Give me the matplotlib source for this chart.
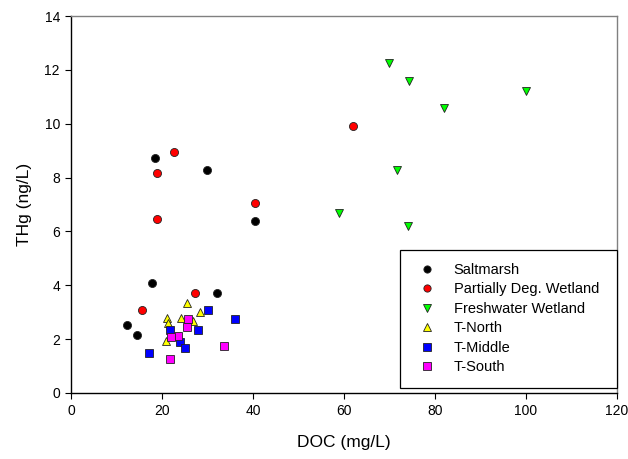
import matplotlib.pyplot as plt

plt.rcParams['font.family'] = ['Liberation Sans', 'DejaVu Sans']

# DOC (mg/L) vs THg (ng/L) by site group
salt_x = [17.8, 32.0, 12.4, 14.5, 18.4, 29.8, 40.4]
salt_y = [4.09, 3.73, 2.53, 2.14, 8.71, 8.27, 6.37]

pdw_x = [22.6, 18.8, 19.0, 40.4, 62.0, 27.2, 15.6]
pdw_y = [8.94, 8.17, 6.48, 7.06, 9.91, 3.73, 3.09]

fw_x = [69.9, 74.2, 100.1, 81.9, 71.6, 59.0, 74.1]
fw_y = [12.25, 11.57, 11.20, 10.58, 8.28, 6.67, 6.21]

tn_x = [25.4, 28.3, 21.2, 24.2, 26.8, 21.4, 20.8]
tn_y = [3.36, 2.99, 2.79, 2.78, 2.68, 2.59, 1.93]

tm_x = [30.2, 36.0, 28.0, 21.8, 23.9, 25.0, 17.2]
tm_y = [3.07, 2.75, 2.33, 2.33, 1.89, 1.68, 1.50]

ts_x = [25.8, 25.4, 23.6, 21.9, 33.7, 21.7]
ts_y = [2.74, 2.44, 2.12, 2.09, 1.73, 1.27]

series = [
    (salt_x, salt_y, 'o', 'black', 'Saltmarsh'),
    (pdw_x, pdw_y, 'o', '#ff0000', 'Partially Deg. Wetland'),
    (fw_x, fw_y, 'v', '#00ff00', 'Freshwater Wetland'),
    (tn_x, tn_y, '^', '#ffff00', 'T-North'),
    (tm_x, tm_y, 's', '#0000ff', 'T-Middle'),
    (ts_x, ts_y, 's', '#ff00ff', 'T-South'),
]

fig = plt.figure(figsize=(6.28, 4.59), dpi=100)
ax = fig.add_axes([0.1131, 0.1438, 0.8694, 0.8213])

for x, y, m, c, lab in series:
    ms = 6.4 if m in ('v', '^') else 5.8
    ax.plot(x, y, linestyle='none', marker=m, markersize=ms,
            markerfacecolor=c, markeredgecolor='#222222',
            markeredgewidth=0.6, label=lab)

ax.set_xlim(0, 120)
ax.set_ylim(0, 14)
ax.set_xticks(range(0, 121, 20))
ax.set_yticks(range(0, 15, 2))
ax.tick_params(direction='out', length=4, width=0.8, labelsize=10,
               pad=4, top=False, right=False)

for side in ('top', 'right'):
    ax.spines[side].set_color('#808080')
for side in ('left', 'bottom'):
    ax.spines[side].set_color('black')
for sp in ax.spines.values():
    sp.set_linewidth(1.0)

ax.set_xlabel('DOC (mg/L)', fontsize=12.5, labelpad=12)
ax.set_ylabel('THg (ng/L)', fontsize=12.5, labelpad=9)

leg = ax.legend(loc='center', bbox_to_anchor=(0.602, 0.013, 0.398, 0.369),
                mode='expand', fontsize=10.5, frameon=True, fancybox=False,
                framealpha=1, edgecolor='black', borderpad=0.9,
                labelspacing=0.38, handlelength=2.0, handletextpad=0.8,
                markerscale=0.9, borderaxespad=0)
leg.get_frame().set_linewidth(0.9)

fig.savefig('out.png', dpi=100)
